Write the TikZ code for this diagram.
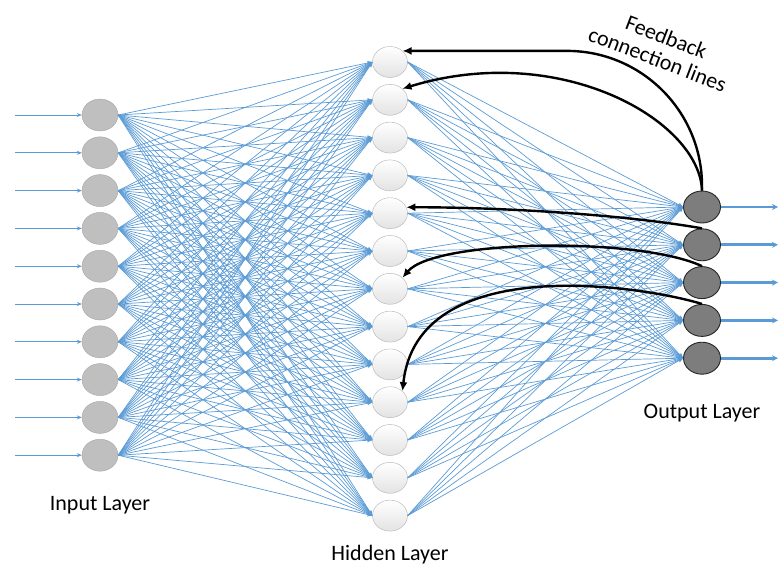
\documentclass[tikz,border=0pt]{standalone}
\usepackage{fontspec}
\setmainfont{Carlito}
\usepackage{tikz}
\usetikzlibrary{shapes,arrows.meta,positioning}
\definecolor{linkblue}{RGB}{91,155,213}
\definecolor{ingray}{RGB}{191,191,191}
\definecolor{outgray}{RGB}{125,125,125}
\tikzstyle{inneuron} = [ellipse,draw=gray!70,fill=ingray,minimum width=36pt,minimum height=32pt,inner sep=0]
\tikzstyle{hidneuron} = [ellipse,draw=gray!60,top color=white,bottom color=gray!22,minimum width=35pt,minimum height=31pt,inner sep=0]
\tikzstyle{outneuron} = [ellipse,draw=black!85,line width=0.9pt,fill=outgray,minimum width=37pt,minimum height=32pt,inner sep=0]
\tikzstyle{link} = [draw=linkblue,line width=0.7pt,-{Stealth[length=5pt,width=4pt]}]
\tikzstyle{outlink} = [draw=linkblue,line width=2.8pt,-{Stealth[length=6pt,width=6pt]}]
\tikzstyle{feedback} = [draw=black,line width=2.4pt,-{Latex[length=9pt,width=8pt]}]
\tikzstyle{layername} = [font=\fontsize{22}{24}\selectfont]
\def \gap {37.8}

\begin{document}
\begin{tikzpicture}[x=1pt,y=1pt]
  \useasboundingbox (0,0) rectangle (778,-565);
  % neurons
  \foreach \n in {1,...,10}
    \node[inneuron] (i\n) at (100,{-115-\gap*(\n-1)}) {};
  \foreach \n in {1,...,13}
    \node[hidneuron] (h\n) at (390,{-62-\gap*(\n-1)}) {};
  \foreach \n in {1,...,5}
    \node[outneuron] (o\n) at (702,{-207-\gap*(\n-1)}) {};
  % inputs and outputs
  \foreach \n in {1,...,10} {
    \coordinate (s\n) at (15,{-115-\gap*(\n-1)});
    \draw[link] (s\n) -- (i\n.west);
  }
  \foreach \n in {1,...,5} {
    \coordinate (e\n) at (778,{-207-\gap*(\n-1)});
    \draw[outlink] (o\n.east) -- (e\n);
  }
  % weights
  \foreach \a in {1,...,10}
    \foreach \b in {1,...,13}
      \draw[link] (i\a.east) -- (h\b.west);
  \foreach \b in {1,...,13}
    \foreach \c in {1,...,5}
      \draw[link] (h\b.east) -- (o\c.west);
  % feedback
  \draw[feedback, rounded corners=135pt] (o1.north) |- (h1.north east);
  \draw[feedback] (o1.north) to[out=92,in=17,out distance=70pt,in distance=165pt] (h2.north east);
  \draw[feedback] (o2.north) to[out=170,in=0,out distance=80pt,in distance=95pt] (h5.20);
  \draw[feedback] (o3.north) to[out=155,in=50,out distance=70pt,in distance=50pt] (h7.north east);
  \draw[feedback] (o4.north) to[out=163,in=84,out distance=65pt,in distance=140pt] (h10.north east);
  % labels
  \node[layername, below=21.5pt of i10] (inname) {Input Layer};
  \node[layername, below=10pt of h13] (hidname) {Hidden Layer};
  \node[layername, below=26pt of o5] (outname) {Output Layer};
  \node[layername, rotate=-21, align=center] (fbname) at (662,-48) {Feedback\\connection lines};
\end{tikzpicture}
\end{document}
